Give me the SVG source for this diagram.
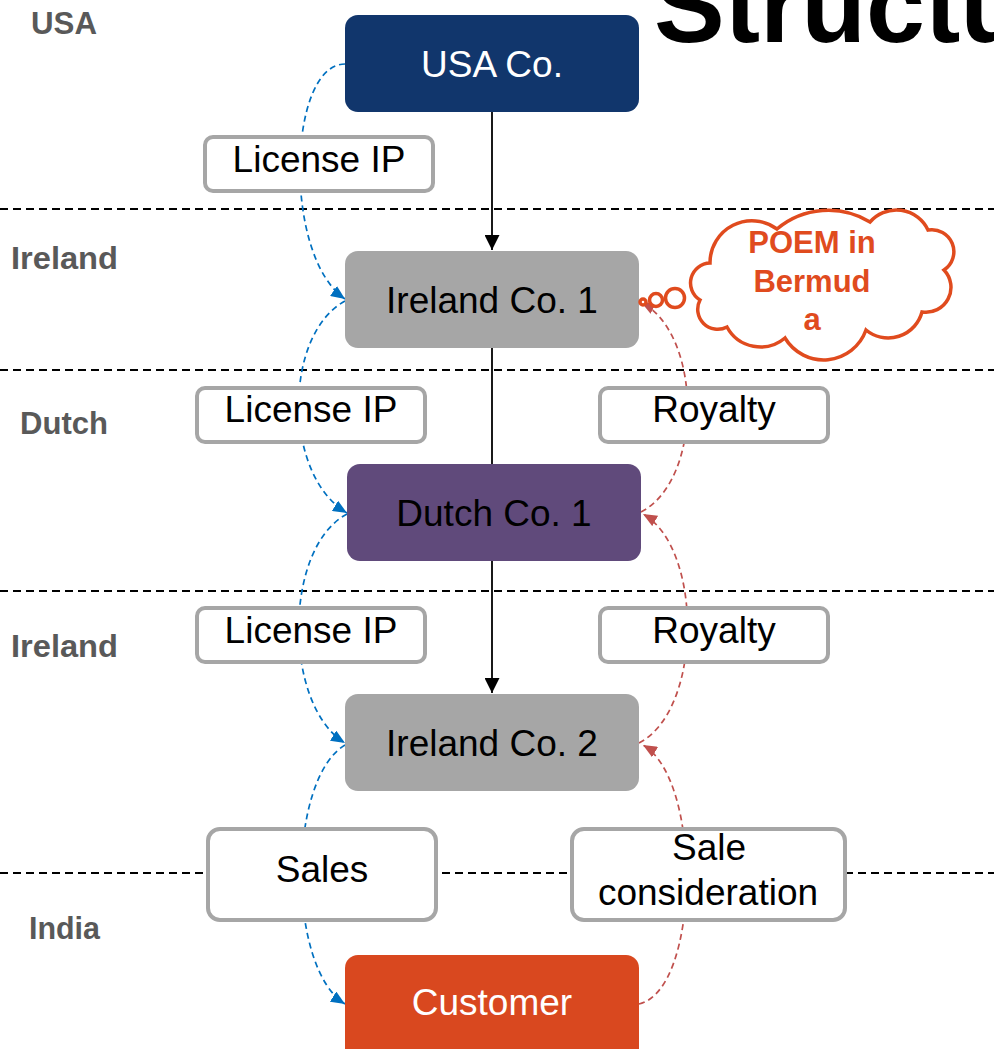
<svg xmlns="http://www.w3.org/2000/svg" width="994" height="1049" viewBox="0 0 994 1049">
  <defs>
    <style>
      .region { font-family: "Liberation Sans", Arial, sans-serif; font-weight: bold; font-size: 31px; fill: #595959; }
      .node-text { font-family: "Liberation Sans", Arial, sans-serif; font-size: 37px; text-anchor: middle; }
      .label-box { fill: #ffffff; stroke: #a6a6a6; stroke-width: 4; }
      .label-text { font-family: "Liberation Sans", Arial, sans-serif; font-size: 37px; fill: #000000; text-anchor: middle; }
      .border { fill: none; stroke: #000000; stroke-width: 1.8; stroke-dasharray: 8 5; }
      .flow-ip { fill: none; stroke: #0070c0; stroke-width: 1.7; stroke-dasharray: 6 4; marker-end: url(#arrow-blue); }
      .flow-pay { fill: none; stroke: #c0504d; stroke-width: 1.7; stroke-dasharray: 6 4; marker-end: url(#arrow-red); }
      .own { fill: none; stroke: #000000; stroke-width: 1.8; }
      .cloud { fill: #ffffff; stroke: #e04b1e; stroke-width: 3.5; }
      .cloud-text { font-family: "Liberation Sans", Arial, sans-serif; font-weight: bold; font-size: 31px; fill: #e04b1e; text-anchor: middle; }
    </style>
    <marker id="arrow-blue" viewBox="0 0 14 12" refX="14" refY="6" markerWidth="14" markerHeight="12" orient="auto" markerUnits="userSpaceOnUse">
      <path d="M0,0 L14,6 L0,12 z" fill="#0070c0"/>
    </marker>
    <marker id="arrow-red" viewBox="0 0 14 12" refX="14" refY="6" markerWidth="14" markerHeight="12" orient="auto" markerUnits="userSpaceOnUse">
      <path d="M0,0 L14,6 L0,12 z" fill="#c0504d"/>
    </marker>
    <marker id="arrow-black" viewBox="0 0 15 15" refX="15" refY="7.5" markerWidth="15" markerHeight="15" orient="auto" markerUnits="userSpaceOnUse">
      <path d="M0,0 L15,7.5 L0,15 z" fill="#000000"/>
    </marker>
  </defs>

  <rect width="994" height="1049" fill="#ffffff"/>

  <!-- title, running off the top-right edge -->
  <text x="654" y="42" font-family="'Liberation Sans', Arial, sans-serif" font-weight="bold" font-size="106" fill="#000000">Structu</text>

  <!-- jurisdiction borders -->
  <g id="borders">
    <line class="border" x1="0" y1="209" x2="994" y2="209"/>
    <line class="border" x1="0" y1="370" x2="994" y2="370"/>
    <line class="border" x1="0" y1="591" x2="994" y2="591"/>
    <line class="border" x1="0" y1="873" x2="994" y2="873"/>
  </g>

  <!-- jurisdiction names -->
  <g id="regions">
    <text class="region" x="31" y="34" textLength="66" lengthAdjust="spacingAndGlyphs">USA</text>
    <text class="region" x="11" y="269" textLength="107" lengthAdjust="spacingAndGlyphs">Ireland</text>
    <text class="region" x="20" y="434" textLength="88" lengthAdjust="spacingAndGlyphs">Dutch</text>
    <text class="region" x="11" y="657" textLength="107" lengthAdjust="spacingAndGlyphs">Ireland</text>
    <text class="region" x="29" y="939" textLength="71" lengthAdjust="spacingAndGlyphs">India</text>
  </g>

  <!-- ownership chain and flows -->
  <g id="connectors">
    <line class="own" x1="492" y1="112" x2="492" y2="250" marker-end="url(#arrow-black)"/>
    <line class="own" x1="492" y1="348" x2="492" y2="464"/>
    <line class="own" x1="492" y1="561" x2="492" y2="693" marker-end="url(#arrow-black)"/>

    <path class="flow-ip" d="M345,64 C288,64 282,255 345,299"/>
    <path class="flow-ip" d="M345,301 C283,335 283,475 347,513"/>
    <path class="flow-ip" d="M347,514 C283,548 283,705 345,743"/>
    <path class="flow-ip" d="M345,745 C287,780 287,968 345,1004"/>

    <path class="flow-pay" d="M641,512 C703,480 703,335 641,302"/>
    <path class="flow-pay" d="M639,743 C703,710 703,548 643,514"/>
    <path class="flow-pay" d="M639,1004 C700,990 703,780 643,745"/>
  </g>

  <!-- flow labels -->
  <g id="label-license-1">
    <rect class="label-box" x="205" y="137" width="228" height="54" rx="8"/>
    <text class="label-text" x="319" y="172">License IP</text>
  </g>
  <g id="label-license-2">
    <rect class="label-box" x="197" y="388" width="228" height="54" rx="8"/>
    <text class="label-text" x="311" y="422">License IP</text>
  </g>
  <g id="label-royalty-1">
    <rect class="label-box" x="600" y="388" width="228" height="54" rx="8"/>
    <text class="label-text" x="714" y="422">Royalty</text>
  </g>
  <g id="label-license-3">
    <rect class="label-box" x="197" y="608" width="228" height="54" rx="8"/>
    <text class="label-text" x="311" y="643">License IP</text>
  </g>
  <g id="label-royalty-2">
    <rect class="label-box" x="600" y="608" width="228" height="54" rx="8"/>
    <text class="label-text" x="714" y="643">Royalty</text>
  </g>
  <g id="label-sales">
    <rect class="label-box" x="208" y="829" width="228" height="91" rx="12"/>
    <text class="label-text" x="322" y="882">Sales</text>
  </g>
  <g id="label-consideration">
    <rect class="label-box" x="572" y="829" width="273" height="91" rx="12"/>
    <text class="label-text" x="709" y="860">Sale</text>
    <text class="label-text" x="708" y="905">consideration</text>
  </g>

  <!-- entities -->
  <g id="usa-co">
    <rect x="345" y="15" width="294" height="97" rx="13" fill="#11366c"/>
    <text class="node-text" x="492" y="77" fill="#ffffff">USA Co.</text>
  </g>
  <g id="ireland-co-1">
    <rect x="345" y="251" width="294" height="97" rx="13" fill="#a6a6a6"/>
    <text class="node-text" x="492" y="313" fill="#000000">Ireland Co. 1</text>
  </g>
  <g id="dutch-co-1">
    <rect x="347" y="464" width="294" height="97" rx="13" fill="#604a7b"/>
    <text class="node-text" x="494" y="526" fill="#000000">Dutch Co. 1</text>
  </g>
  <g id="ireland-co-2">
    <rect x="345" y="694" width="294" height="97" rx="13" fill="#a6a6a6"/>
    <text class="node-text" x="492" y="756" fill="#000000">Ireland Co. 2</text>
  </g>
  <g id="customer">
    <rect x="345" y="955" width="294" height="110" rx="13" fill="#d9481f"/>
    <text class="node-text" x="492" y="1015" fill="#ffffff">Customer</text>
  </g>

  <!-- place of effective management callout -->
  <g id="poem-callout">
    <path class="cloud" d="M710,263 A42,42 0 0 1 777,229 A80,80 0 0 1 870,222 A35,35 0 0 1 928,230 A22,22 0 0 1 944,270 A25,25 0 0 1 922,312 A35,35 0 0 1 866,330 A45,45 0 0 1 785,338 A38,38 0 0 1 727,327 A20,20 0 0 1 700,300 A20,20 0 0 1 710,263 Z"/>
    <circle class="cloud" cx="675" cy="298" r="9.5" stroke-width="3"/>
    <circle class="cloud" cx="656" cy="300" r="6.5" stroke-width="3"/>
    <circle class="cloud" cx="643" cy="302" r="3" stroke-width="3"/>
    <text class="cloud-text" x="812" y="253">POEM in</text>
    <text class="cloud-text" x="812" y="292">Bermud</text>
    <text class="cloud-text" x="812" y="330">a</text>
  </g>
</svg>
